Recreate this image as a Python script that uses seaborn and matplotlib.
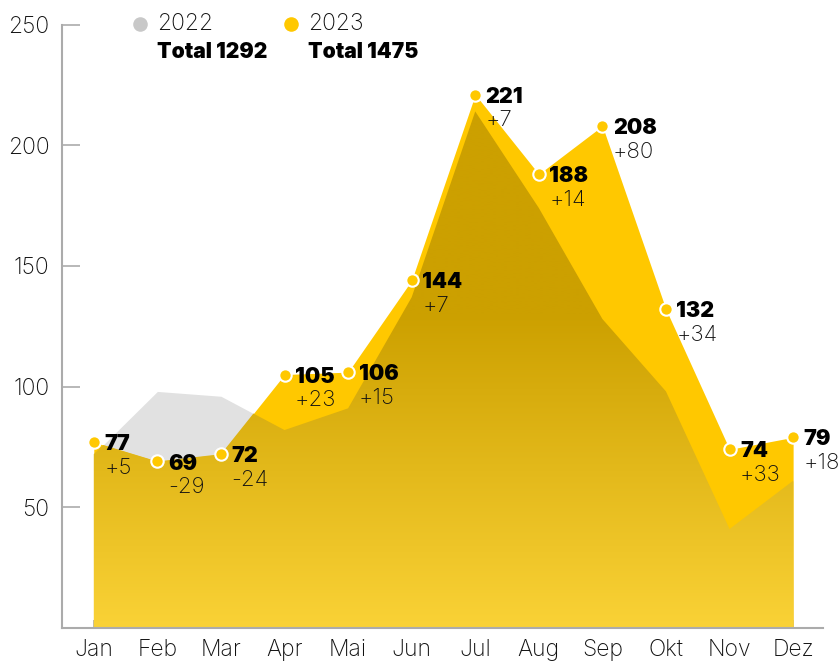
import numpy as np
import matplotlib.pyplot as plt
import matplotlib.colors as mcolors
from matplotlib.patches import Polygon
import seaborn as sns
import pandas as pd

# Data
months = ['Jan', 'Feb', 'Mar', 'Apr', 'Mai', 'Jun', 'Jul', 'Aug', 'Sep', 'Okt', 'Nov', 'Dez']
values_2023 = [77, 69, 72, 105, 106, 144, 221, 188, 208, 132, 74, 79]
values_2022 = [72, 98, 96, 82, 91, 137, 214, 174, 128, 98, 41, 61]
y_ticks = [50, 100, 150, 200, 250]

YELLOW = '#FFC800'
GRAY = '#E1E1E1'
DARK = '#CCA000'
LIGHT = '#FAD236'
AXIS = '#ABABAB'
TXT = '#111111'

sns.set_style("white")
plt.rcParams['font.family'] = ['Inter', 'DejaVu Sans']

df = pd.DataFrame({'month': months, 'y2023': values_2023, 'y2022': values_2022})
df['x'] = np.arange(len(df))
df['diff'] = df['y2023'] - df['y2022']

W, H = 839, 661
fig = plt.figure(figsize=(W / 100, H / 100), dpi=100)
ax = fig.add_axes([62 / W, 33 / H, (823 - 62) / W, (628 - 24.5) / H])

x = df['x'].to_numpy()
y22 = df['y2022'].to_numpy()
y23 = df['y2023'].to_numpy()

# 2022 area (gray where it exceeds 2023), then 2023 area
ax.fill_between(x, 0, y22, color=GRAY, lw=0, zorder=1)
ax.fill_between(x, 0, y23, color=YELLOW, lw=0, zorder=2)

# overlap region with vertical gradient
xf = np.linspace(0, 11, 2201)
ymin = np.minimum(np.interp(xf, x, y22), np.interp(xf, x, y23))
verts = np.column_stack([np.r_[xf, xf[::-1]], np.r_[ymin, np.zeros_like(xf)]])
clip = Polygon(verts, closed=True, facecolor='none', edgecolor='none', transform=ax.transData)
ax.add_patch(clip)

gv = np.linspace(0, 250, 512)
t = np.clip(gv / 130, 0, 1)[:, None, None]
c0 = np.array(mcolors.to_rgb(LIGHT))
c1 = np.array(mcolors.to_rgb(DARK))
img = c0 + (c1 - c0) * t
im = ax.imshow(img, extent=[-0.5, 11.5, 0, 250], origin='lower', aspect='auto',
               interpolation='bilinear', zorder=3)
im.set_clip_path(clip)

# markers
sns.scatterplot(data=df, x='x', y='y2023', ax=ax, s=80, color=YELLOW,
                edgecolor='white', linewidth=1.5, zorder=5, clip_on=False)

# value labels
for _, r in df.iterrows():
    ax.annotate(f"{r['y2023']}", (r['x'], r['y2023']), xytext=(7.5, -1.5),
                textcoords='offset points', ha='left', va='center',
                fontsize=15.5, fontweight='black', color='black', zorder=6,
                annotation_clip=False)
    ax.annotate(f"{r['diff']:+d}", (r['x'], r['y2023']), xytext=(7.5, -18.5),
                textcoords='offset points', ha='left', va='center',
                fontsize=16, fontweight='light', color=TXT, zorder=6,
                annotation_clip=False)

ax.set_xlim(-0.5, 11.47)
ax.set_ylim(0, 250)
ax.set_xticks(x)
ax.set_xticklabels(months)
ax.set_yticks(y_ticks)
ax.set_xlabel('')
ax.set_ylabel('')

for s in ['top', 'right']:
    ax.spines[s].set_visible(False)
for s in ['left', 'bottom']:
    ax.spines[s].set_color(AXIS)
    ax.spines[s].set_linewidth(1.5)
    ax.spines[s].set_zorder(4)

ax.tick_params(axis='y', direction='in', length=13, width=1.2, color=AXIS,
               labelsize=16.5, labelcolor=TXT, pad=9, left=True)
ax.tick_params(axis='x', direction='in', length=6, width=1.2, color=AXIS,
               labelsize=16.5, labelcolor=TXT, pad=8, bottom=True)
for lab in ax.get_xticklabels() + ax.get_yticklabels():
    lab.set_fontweight('light')


# legend
def fx(px):
    return px / W


def fy(py):
    return 1 - py / H


for dot_x, col, year, total in [(140, '#C8C8C8', '2022', sum(values_2022)),
                                (291, YELLOW, '2023', sum(values_2023))]:
    ax.scatter([fx(dot_x)], [fy(24)], s=110, color=col, lw=0,
               transform=fig.transFigure, clip_on=False, zorder=7)
    fig.text(fx(dot_x + 17), fy(24), year, fontsize=16.5, fontweight='light',
             color=TXT, va='center', ha='left')
    fig.text(fx(dot_x + 17), fy(52), f"Total {total}", fontsize=15.2, fontweight='black',
             color='black', va='center', ha='left')

fig.savefig('out.png', dpi=100)
